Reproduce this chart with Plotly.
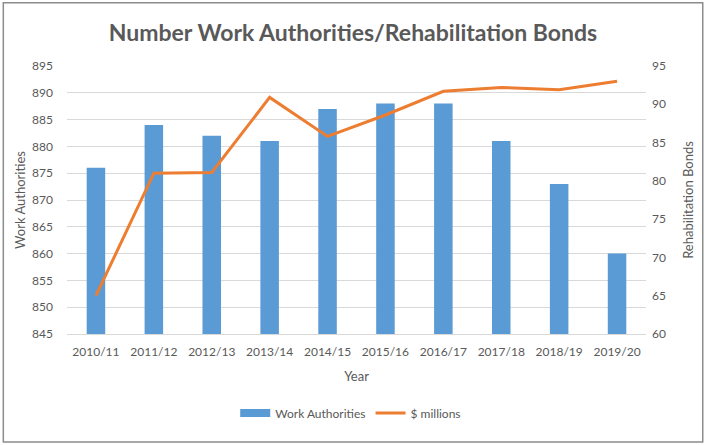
import plotly.graph_objects as go

years = ["2010/11", "2011/12", "2012/13", "2013/14", "2014/15",
         "2015/16", "2016/17", "2017/18", "2018/19", "2019/20"]
work_authorities = [876, 884, 882, 881, 887, 888, 888, 881, 873, 860]
bonds_millions = [65.0, 81.0, 81.1, 90.9, 85.8, 88.6, 91.7, 92.2, 91.9, 93.0]

FONT = "Lato"
GRAY = "#595959"
BLUE = "#5B9BD5"
ORANGE = "#ED7D31"

fig = go.Figure()
fig.add_trace(go.Bar(x=years, y=work_authorities, name="Work Authorities",
                     marker=dict(color=BLUE, line=dict(width=0)),
                     yaxis="y", showlegend=False, legendgroup="wa"))
# legend-only entry so the bar key is a wide rectangle like the original
fig.add_trace(go.Scatter(x=[None], y=[None], name="Work Authorities",
                         mode="lines", line=dict(color=BLUE, width=8),
                         yaxis="y", legendgroup="wa", hoverinfo="skip"))
fig.add_trace(go.Scatter(x=years, y=bonds_millions, name="$ millions",
                         mode="lines", line=dict(color=ORANGE, width=3),
                         yaxis="y2"))

fig.update_layout(
    width=706, height=445,
    margin=dict(l=67, r=60, t=66, b=111, autoexpand=False),
    paper_bgcolor="white", plot_bgcolor="white",
    font=dict(family=FONT, color=GRAY, size=12),
    title=dict(text="<b>Number Work Authorities/Rehabilitation Bonds</b>",
               x=0.5, xanchor="center", y=0.926, yanchor="middle",
               font=dict(size=23, color=GRAY, family=FONT)),
    bargap=0.68,
    showlegend=True,
    legend=dict(orientation="h", x=0.49, xanchor="center", y=-0.295, yanchor="middle",
                font=dict(size=12, color=GRAY), itemwidth=30,
                traceorder="normal"),
    xaxis=dict(showgrid=False, showline=True, linecolor="#D9D9D9",
               ticks="", tickfont=dict(size=12, color=GRAY), automargin=False,
               ticklabelstandoff=7,
               title=dict(text="Year", font=dict(size=13, color=GRAY), standoff=13)),
    yaxis=dict(range=[845, 895], dtick=5, tick0=845, showgrid=True,
               gridcolor="#D9D9D9", gridwidth=1, zeroline=False, showline=False,
               ticks="", tickfont=dict(size=12, color=GRAY), automargin=False,
               ticklabelstandoff=13,
               title=dict(text="Work Authorities", font=dict(size=13, color=GRAY), standoff=3)),
    yaxis2=dict(range=[60, 95], dtick=5, tick0=60, overlaying="y", side="right",
                showgrid=False, zeroline=False, showline=False, ticks="",
                tickfont=dict(size=12, color=GRAY), automargin=False,
                ticklabelstandoff=5,
                title=dict(text="Rehabilitation Bonds", font=dict(size=13, color=GRAY), standoff=18)),
)

fig.add_shape(type="rect", xref="paper", yref="paper",
              x0=-0.110, x1=1.098, y0=-0.403, y1=1.236,
              line=dict(color="#8C8C8C", width=1.5), fillcolor="rgba(0,0,0,0)",
              layer="below")

fig.write_html("out.html", config={"displayModeBar": False},
               post_script="document.body.style.margin='0';document.body.style.padding='0';")
